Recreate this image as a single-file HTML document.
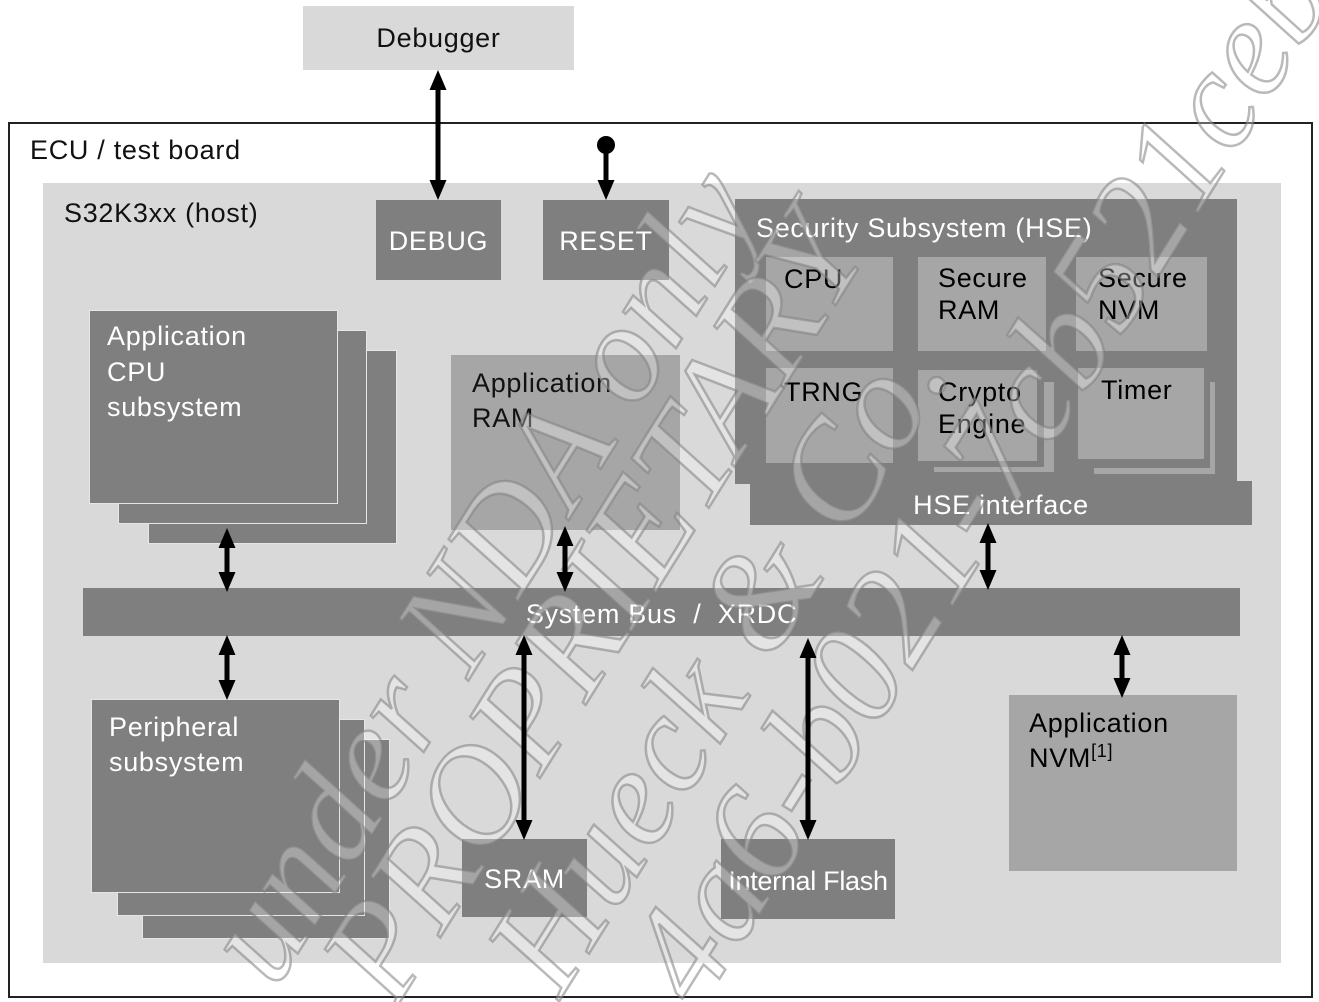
<!DOCTYPE html>
<html><head><meta charset="utf-8"><style>
html,body{margin:0;padding:0;background:#fff;}
body{width:1319px;height:1002px;position:relative;overflow:hidden;font-family:"Liberation Sans",Arial,sans-serif;}
.a{position:absolute;box-sizing:border-box;}
.d{background:#7f7f7f;color:#fff;}
.l{background:#a6a6a6;color:#111;}
.w{border:1px solid #e6e6e6;}
.a,.t{font-size:27px;letter-spacing:0.7px;}
.t{position:absolute;line-height:35px;}
</style></head><body>
<div class="a" style="left:303px;top:6px;width:271px;height:64px;background:#d9d9d9;text-align:center;line-height:64px;color:#111">Debugger</div>
<div class="a" style="left:8px;top:122px;width:1305px;height:876px;border:2px solid #222;"></div>
<div class="t" style="left:30px;top:133px;color:#111">ECU / test board</div>
<div class="a" style="left:43px;top:183px;width:1238px;height:780px;background:#d9d9d9"></div>
<div class="t" style="left:64px;top:196px;color:#111">S32K3xx (host)</div>

<div class="a d" style="left:376px;top:200px;width:125px;height:80px;text-align:center;line-height:82px">DEBUG</div>
<div class="a d" style="left:543px;top:200px;width:126px;height:80px;text-align:center;line-height:82px">RESET</div>

<div class="a d w" style="left:148px;top:350px;width:249px;height:194px"></div>
<div class="a d w" style="left:118px;top:330px;width:249px;height:194px"></div>
<div class="a d w" style="left:89px;top:310px;width:249px;height:194px"></div>
<div class="t" style="left:107px;top:319px;color:#fff;line-height:35.5px">Application<br>CPU<br>subsystem</div>

<div class="a l" style="left:451px;top:355px;width:229px;height:175px"></div>
<div class="t" style="left:472px;top:366px;color:#111">Application<br>RAM</div>

<div class="a d" style="left:750px;top:481px;width:502px;height:44px;text-align:center;line-height:48px">HSE interface</div>
<div class="a d" style="left:735px;top:199px;width:502px;height:285px"></div>
<div class="t" style="left:756px;top:211px;color:#fff">Security Subsystem (HSE)</div>
<div class="a l" style="left:766px;top:257px;width:127px;height:94px"></div>
<div class="t" style="left:784px;top:262px">CPU</div>
<div class="a l" style="left:918px;top:257px;width:128px;height:94px"></div>
<div class="t" style="left:938px;top:262px;line-height:32px">Secure<br>RAM</div>
<div class="a l" style="left:1076px;top:257px;width:131px;height:94px"></div>
<div class="t" style="left:1098px;top:262px;line-height:32px">Secure<br>NVM</div>
<div class="a l" style="left:766px;top:368px;width:127px;height:95px"></div>
<div class="t" style="left:784px;top:375px">TRNG</div>
<div class="a l" style="left:934px;top:382px;width:120px;height:90px"></div>
<div class="a d" style="left:918px;top:368px;width:126px;height:99px"></div>
<div class="a l" style="left:918px;top:370px;width:119px;height:91px"></div>
<div class="t" style="left:938px;top:376px;line-height:32px">Crypto<br>Engine</div>
<div class="a l" style="left:1094px;top:382px;width:121px;height:92px"></div>
<div class="a d" style="left:1078px;top:366px;width:132px;height:102px"></div>
<div class="a l" style="left:1078px;top:368px;width:126px;height:91px"></div>
<div class="t" style="left:1101px;top:373px">Timer</div>

<div class="a d" style="left:83px;top:588px;width:1157px;height:48px;text-align:center;line-height:52px">System Bus &nbsp;/ &nbsp;XRDC</div>

<div class="a d w" style="left:142px;top:739px;width:248px;height:200px"></div>
<div class="a d w" style="left:117px;top:719px;width:248px;height:197px"></div>
<div class="a d w" style="left:91px;top:699px;width:249px;height:194px"></div>
<div class="t" style="left:109px;top:710px;color:#fff">Peripheral<br>subsystem</div>

<div class="a d" style="left:462px;top:839px;width:125px;height:78px;text-align:center;line-height:80px">SRAM</div>
<div class="a d" style="left:721px;top:839px;width:174px;height:80px;text-align:center;line-height:84px;white-space:nowrap;letter-spacing:-0.3px">Internal Flash</div>
<div class="a l" style="left:1009px;top:695px;width:228px;height:176px"></div>
<div class="t" style="left:1029px;top:706px">Application<br>NVM<sup style="font-size:18px;line-height:0">[1]</sup></div>

<svg class="a" style="left:0;top:0;overflow:hidden" width="1319" height="1002">
<defs><marker id="ar" markerWidth="4" markerHeight="4" refX="2" refY="2" orient="auto-start-reverse" markerUnits="strokeWidth"><path d="M0,0.3 L4,2 L0,3.7 z" fill="#000"/></marker></defs>
<g font-family="Liberation Serif, serif" font-style="italic" fill="#ffffff" fill-opacity="0.3" stroke="#808080" stroke-width="2.5" stroke-opacity="0.55" font-size="140">
<text transform="translate(275,990) rotate(-58)">under NDA only</text>
<text transform="translate(395,1010) rotate(-58)">PROPRIETARY</text>
<text transform="translate(560,1000) rotate(-58)">Hueck &amp; Co.</text>
<text transform="translate(700,1010) rotate(-58)">4a6-b021-7cb521ceb</text>
</g>
<g stroke="#000" stroke-width="5" fill="none">
<line x1="438" y1="80" x2="438" y2="190" marker-start="url(#ar)" marker-end="url(#ar)"/>
<line x1="606" y1="146" x2="606" y2="190" marker-end="url(#ar)"/>
<line x1="227" y1="538" x2="227" y2="582" marker-start="url(#ar)" marker-end="url(#ar)"/>
<line x1="565" y1="536" x2="565" y2="582" marker-start="url(#ar)" marker-end="url(#ar)"/>
<line x1="988" y1="533" x2="988" y2="580" marker-start="url(#ar)" marker-end="url(#ar)"/>
<line x1="227" y1="645" x2="227" y2="690" marker-start="url(#ar)" marker-end="url(#ar)"/>
<line x1="524" y1="645" x2="524" y2="830" marker-start="url(#ar)" marker-end="url(#ar)"/>
<line x1="808" y1="648" x2="808" y2="830" marker-start="url(#ar)" marker-end="url(#ar)"/>
<line x1="1122" y1="645" x2="1122" y2="688" marker-start="url(#ar)" marker-end="url(#ar)"/>
</g>
<circle cx="606" cy="145" r="9" fill="#000"/>
</svg>
</body></html>
